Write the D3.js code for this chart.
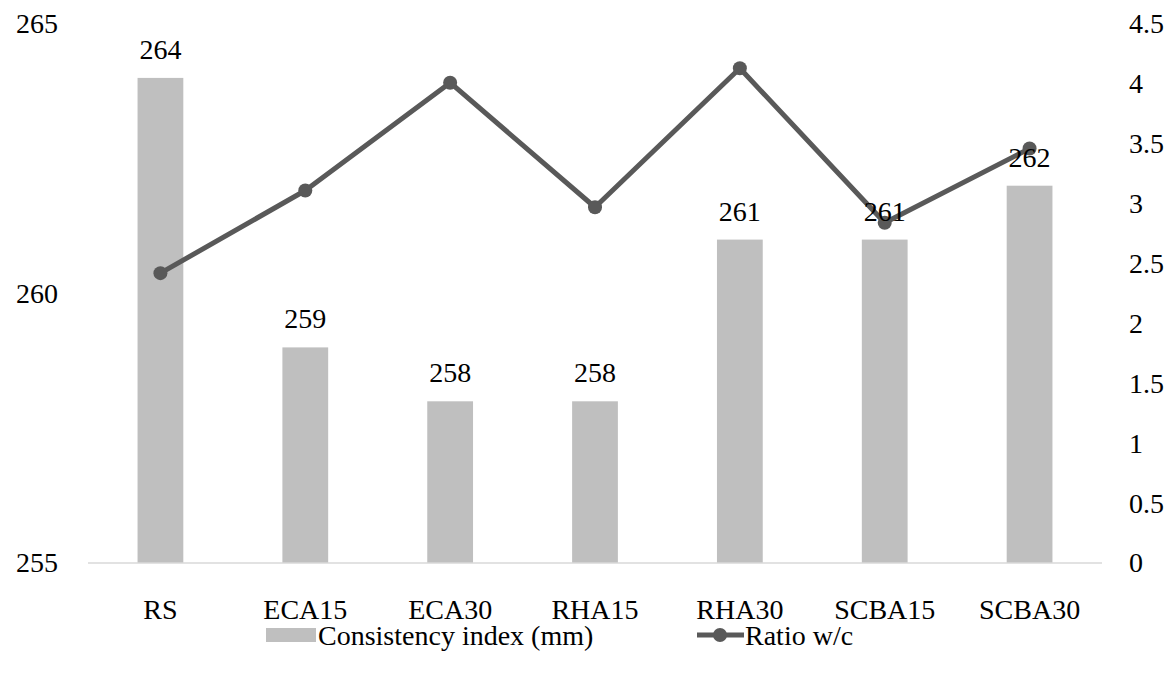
<!DOCTYPE html>
<html>
<head>
<meta charset="utf-8">
<script src="https://cdn.jsdelivr.net/npm/d3@7"></script>
<style>
	body { margin: 0; background: #fff; overflow: hidden; }
	svg { display: block; }
</style>
</head>
<body>
<svg></svg>
<script>
const categories = ['RS', 'ECA15', 'ECA30', 'RHA15', 'RHA30', 'SCBA15', 'SCBA30'];
const consistency = [264, 259, 258, 258, 261, 261, 262];
const ratioWC = [2.42, 3.11, 4.01, 2.97, 4.13, 2.84, 3.46];
const leftTicks = [255, 260, 265];
const rightTicks = [0, 0.5, 1, 1.5, 2, 2.5, 3, 3.5, 4, 4.5];

const width = 1174;
const height = 677;
const margin = { top: 24, right: 72, bottom: 114, left: 88 };
const innerWidth = width - margin.left - margin.right;
const innerHeight = height - margin.top - margin.bottom;
const fontSize = 28;
const fontFamily = '"Liberation Serif", "Times New Roman", Times, serif';

const svg = d3.select('svg')
	.attr('width', width)
	.attr('height', height)
	.attr('font-family', fontFamily);

const g = svg.append('g')
	.attr('transform', `translate(${margin.left},${margin.top})`);

const xScale = d3.scaleBand()
	.domain(categories)
	.range([0, innerWidth])
	.paddingInner(0.684)
	.paddingOuter(0.342);

const yLeft = d3.scaleLinear()
	.domain([255, 265])
	.range([innerHeight, 0]);

const yRight = d3.scaleLinear()
	.domain([0, 4.5])
	.range([innerHeight, 0]);

function styleAxis(axisG) {
	axisG.attr('font-family', fontFamily).attr('font-size', fontSize);
	axisG.select('.domain').remove();
	axisG.selectAll('text').attr('fill', '#000');
}

// left axis labels
g.append('g')
	.call(d3.axisLeft(yLeft).tickValues(leftTicks).tickSize(0).tickPadding(30))
	.call(styleAxis);

// right axis labels
g.append('g')
	.attr('transform', `translate(${innerWidth},0)`)
	.call(d3.axisRight(yRight).tickValues(rightTicks).tickSize(0).tickPadding(27).tickFormat(d => d))
	.call(styleAxis);

// bars
g.selectAll('rect.bar').data(consistency)
	.enter().append('rect')
		.attr('class', 'bar')
		.attr('x', (d, i) => xScale(categories[i]))
		.attr('width', xScale.bandwidth())
		.attr('y', d => yLeft(d))
		.attr('height', d => innerHeight - yLeft(d))
		.attr('fill', '#bfbfbf');

// baseline
g.append('line')
	.attr('x1', 0)
	.attr('x2', innerWidth)
	.attr('y1', innerHeight)
	.attr('y2', innerHeight)
	.attr('stroke', '#d9d9d9')
	.attr('stroke-width', 1.5);

// x labels
g.append('g')
	.attr('transform', `translate(0,${innerHeight})`)
	.call(d3.axisBottom(xScale).tickSize(0).tickPadding(36))
	.call(styleAxis);

// line
const cx = i => xScale(categories[i]) + xScale.bandwidth() / 2;
const line = d3.line()
	.x((d, i) => cx(i))
	.y(d => yRight(d));

g.append('path')
	.datum(ratioWC)
	.attr('d', line)
	.attr('fill', 'none')
	.attr('stroke', '#595959')
	.attr('stroke-width', 5)
	.attr('stroke-linejoin', 'round');

g.selectAll('circle.pt').data(ratioWC)
	.enter().append('circle')
		.attr('class', 'pt')
		.attr('cx', (d, i) => cx(i))
		.attr('cy', d => yRight(d))
		.attr('r', 7)
		.attr('fill', '#595959');

// bar value labels (drawn on top)
g.selectAll('text.val').data(consistency)
	.enter().append('text')
		.attr('class', 'val')
		.attr('x', (d, i) => cx(i))
		.attr('y', d => yLeft(d) - 19)
		.attr('text-anchor', 'middle')
		.attr('font-size', fontSize)
		.text(d => d);

// legend
const legend = svg.append('g')
	.attr('transform', 'translate(0,635)')
	.attr('font-size', fontSize);
legend.append('rect')
	.attr('x', 266)
	.attr('y', -7)
	.attr('width', 50)
	.attr('height', 14)
	.attr('fill', '#bfbfbf');
legend.append('text')
	.attr('x', 318)
	.attr('y', 10)
	.text('Consistency index (mm)');
legend.append('line')
	.attr('x1', 697)
	.attr('x2', 744)
	.attr('y1', 0)
	.attr('y2', 0)
	.attr('stroke', '#595959')
	.attr('stroke-width', 5);
legend.append('circle')
	.attr('cx', 720)
	.attr('cy', 0)
	.attr('r', 7)
	.attr('fill', '#595959');
legend.append('text')
	.attr('x', 745)
	.attr('y', 10)
	.text('Ratio w/c');
</script>
</body>
</html>
